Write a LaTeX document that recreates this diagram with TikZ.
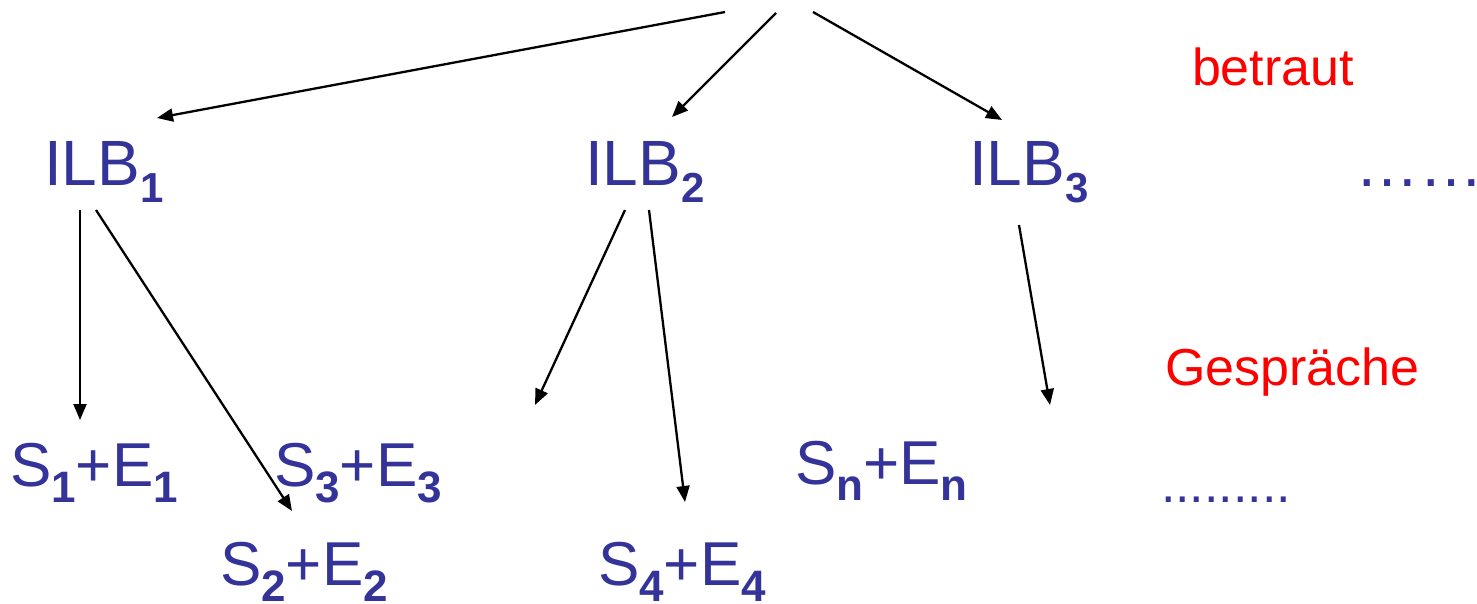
\documentclass[tikz,border=0pt]{standalone}
\usepackage{fontspec}
\setmainfont{Liberation Sans}
\usetikzlibrary{arrows.meta}
\definecolor{ilbblue}{RGB}{51,51,153}
% lowered bold subscripts
\newcommand\ilbsub[1]{\raisebox{-17pt}{\fontsize{42}{42}\selectfont\bfseries #1}}
\newcommand\sesub[1]{\raisebox{-16pt}{\fontsize{44}{44}\selectfont\bfseries #1}}
\begin{document}
\begin{tikzpicture}[x=1pt,y=-1pt,
  txt/.style={anchor=base west, inner sep=0pt, outer sep=0pt},
  ilb/.style={txt, text=ilbblue, font=\fontsize{64}{64}\selectfont},
  pair/.style={txt, text=ilbblue, font=\fontsize{62}{62}\selectfont},
  note/.style={txt, text=red, font=\fontsize{52}{52}\selectfont},
  link/.style={-{Triangle[length=16pt,width=13pt]}, line width=2.3pt}]
\useasboundingbox (0,0) rectangle (1477,603);

% institutes
\node[ilb] (ilb1) at (44,185) {ILB\ilbsub{1}};
\node[ilb] (ilb2) at (585,185) {ILB\ilbsub{2}};
\node[ilb] (ilb3) at (969,185) {ILB\ilbsub{3}};
\node[ilb] (dotstop) at (1355,186) {……};

% student + expert pairs
\node[pair] (se1) at (10,486) {S\sesub{1}+E\sesub{1}};
\node[pair] (se3) at (274,486) {S\sesub{3}+E\sesub{3}};
\node[pair] (se2) at (220,585) {S\sesub{2}+E\sesub{2}};
\node[pair] (se4) at (598,585) {S\sesub{4}+E\sesub{4}};
\node[pair] (sen) at (795,484) {S\sesub{n}+E\sesub{n}};
\node[txt, text=ilbblue, font=\fontsize{52}{52}\selectfont] (dotsbot) at (1161,502) {.........};

% side labels
\node[note] (betraut) at (1192,85) {betraut};
\node[note] (gespraeche) at (1165,385) {Gespräche};

% connector ends
\coordinate (src1) at (725,12);
\coordinate (src2) at (776,13);
\coordinate (src3) at (813,12);
\coordinate (in1) at (157,118);
\coordinate (in2) at (672,117);
\coordinate (in3) at (1002,120);
\coordinate (a1s) at (80,210);
\coordinate (a1e) at (80,420);
\coordinate (b1s) at (96,210);
\coordinate (b1e) at (292,511);
\coordinate (a2s) at (625,210);
\coordinate (a2e) at (535,405);
\coordinate (b2s) at (649,210);
\coordinate (b2e) at (685,502);
\coordinate (a3s) at (1019,225);
\coordinate (a3e) at (1050,405);

\draw[link] (src1) -- (in1);
\draw[link] (src2) -- (in2);
\draw[link] (src3) -- (in3);
\draw[link] (a1s) -- (a1e);
\draw[link] (b1s) -- (b1e);
\draw[link] (a2s) -- (a2e);
\draw[link] (b2s) -- (b2e);
\draw[link] (a3s) -- (a3e);
\end{tikzpicture}
\end{document}
